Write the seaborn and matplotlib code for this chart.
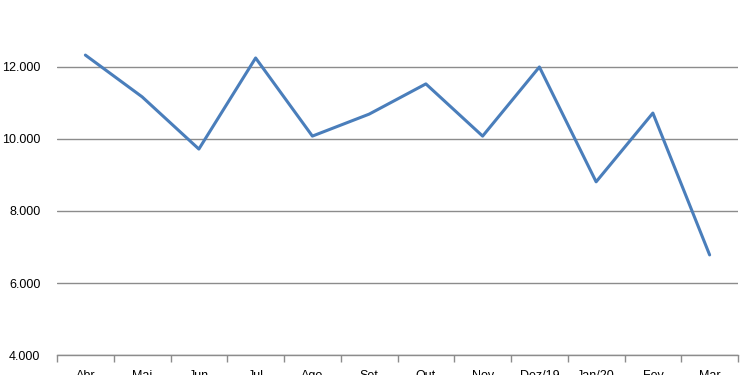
import numpy as np
import pandas as pd
import seaborn as sns
import matplotlib.pyplot as plt
from matplotlib.ticker import FuncFormatter, FixedLocator

months = ["Abr", "Mai", "Jun", "Jul", "Ago", "Set", "Out", "Nov",
          "Dez/19", "Jan/20", "Fev", "Mar"]
values = [12330, 11170, 9720, 12250, 10080, 10690, 11530, 10080,
          12000, 8810, 10720, 6780]

df = pd.DataFrame({"mes": months, "valor": values})

sns.set_style("white")
plt.rcParams["font.family"] = ["Liberation Sans", "DejaVu Sans"]

fig = plt.figure(figsize=(7.5, 3.75), dpi=100)
ax = fig.add_axes([0.076, 0.0533, 0.908, 0.9467])

sns.lineplot(data=df, x="mes", y="valor", color="#4A7EBB", linewidth=2.2,
             sort=False, ax=ax)

ax.set_xlim(-0.5, len(months) - 0.5)
ax.set_ylim(4000, 13860)
ax.set_yticks([4000, 6000, 8000, 10000, 12000])
ax.yaxis.set_major_formatter(FuncFormatter(lambda v, p: f"{int(v):,}".replace(",", ".")))
ax.grid(axis="y", color="#8c8c8c", linewidth=1)
ax.set_axisbelow(True)

# tick marks between categories
ax.xaxis.set_minor_locator(FixedLocator(np.arange(-0.5, len(months), 1)))
ax.tick_params(axis="x", which="both", bottom=True)
ax.tick_params(axis="x", which="minor", length=5, width=1, color="#8c8c8c", direction="out")
ax.tick_params(axis="x", which="major", length=0, pad=11, labelsize=9, labelcolor="#000000")
ax.tick_params(axis="y", length=0, pad=12, labelsize=9, labelcolor="#000000")

for s in ["top", "right", "left"]:
    ax.spines[s].set_visible(False)
ax.spines["bottom"].set_color("#8c8c8c")
ax.spines["bottom"].set_linewidth(1)

ax.set_xlabel("")
ax.set_ylabel("")

fig.savefig("out.png", dpi=100)
